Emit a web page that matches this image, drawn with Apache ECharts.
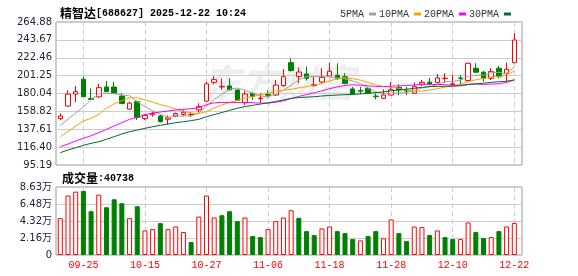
<!DOCTYPE html>
<html>
<head>
<meta charset="utf-8">
<script src="https://cdn.jsdelivr.net/npm/echarts@6/dist/echarts.min.js"></script>
<style>
html,body{margin:0;padding:0;background:#fff;}
#chart{width:578px;height:276px;}
</style>
</head>
<body>
<div id="chart"></div>
<script>
// ---- data ----
const dates = ['09-22','09-23','09-24','09-25','09-26','09-29','09-30','10-09','10-10','10-13','10-14','10-15','10-16','10-17','10-20','10-21','10-22','10-23','10-24','10-27','10-28','10-29','10-30','10-31','11-03','11-04','11-05','11-06','11-07','11-10','11-11','11-12','11-13','11-14','11-17','11-18','11-19','11-20','11-21','11-24','11-25','11-26','11-27','11-28','12-01','12-02','12-03','12-04','12-05','12-08','12-09','12-10','12-11','12-12','12-15','12-16','12-17','12-18','12-19','12-22'];
const tickDates = ['09-25','10-15','10-27','11-06','11-18','11-28','12-10','12-22'];
const openP  = [150.2,165.2,179.4,196.9,174.0,176.0,187.8,187.7,177.0,161.5,170.3,150.3,154.8,153.3,149.5,153.5,155.3,155.0,160.5,171.0,193.3,187.8,189.0,184.2,169.0,180.0,174.0,179.0,178.2,189.5,216.6,200.0,203.2,189.5,193.7,200.8,201.6,200.0,185.4,183.5,186.2,177.0,174.3,178.2,187.2,183.8,180.3,191.0,193.5,193.3,197.8,190.8,198.5,195.5,210.0,205.3,198.1,210.0,204.0,216.6];
const closeP = [153.3,179.4,182.2,176.3,173.0,187.0,182.2,180.5,168.3,168.6,151.5,154.0,156.3,146.8,151.0,156.3,157.8,155.4,164.5,191.5,196.5,188.5,184.3,171.8,179.4,176.5,174.5,178.0,190.0,200.0,207.3,205.5,198.1,190.5,199.2,206.4,198.1,192.1,179.4,182.7,180.3,176.2,178.2,184.5,184.2,183.0,188.1,193.3,191.3,198.5,198.2,191.5,198.0,215.9,205.3,198.1,206.0,200.0,208.8,243.5];
const lowP   = [148.6,164.5,170.0,176.0,172.3,175.1,182.0,179.5,167.2,160.4,148.6,148.6,152.5,145.4,143.0,152.0,153.0,152.0,157.7,170.3,191.0,184.5,184.0,171.0,166.3,172.5,169.0,175.0,177.0,188.0,206.0,192.0,195.3,188.0,192.0,200.0,196.0,191.0,178.6,179.4,179.5,173.1,174.0,177.9,178.0,178.0,180.0,189.0,189.5,192.0,192.5,190.1,190.5,194.0,204.3,194.0,196.0,198.1,194.0,215.9];
const highP  = [156.5,184.0,189.0,200.0,186.0,191.3,194.9,193.7,180.3,170.3,171.6,155.0,158.4,154.5,154.0,157.5,160.4,158.0,168.4,194.0,200.5,198.0,198.0,185.0,183.4,181.5,180.3,184.0,196.0,209.0,221.8,210.7,212.0,200.0,210.0,216.6,215.9,204.0,188.0,188.0,188.0,180.3,185.0,193.5,191.0,188.0,193.0,196.0,198.5,203.2,204.0,202.0,202.0,216.6,216.0,207.0,210.0,212.8,216.8,251.4];
const volume = [46700,75400,80400,81300,55600,76600,60600,70700,65700,46700,61900,31200,32800,40400,32800,36200,29100,16400,48800,75400,47600,50500,55600,42900,47600,24000,22700,32800,42900,47600,56800,47200,30300,25300,33700,36200,30300,27800,20200,18500,24000,30300,21100,45100,27800,17700,36200,35400,25300,31200,22700,20200,20200,41300,29100,21500,22700,30300,36200,40738];
const ma5  = [142.0,149.5,157.0,164.0,172.8,179.6,180.1,179.8,178.2,177.3,170.2,164.6,159.7,155.4,151.9,152.9,153.6,153.4,157.0,165.1,173.1,179.3,185.1,186.5,184.1,180.1,177.3,176.0,179.7,183.8,190.0,196.2,200.2,200.3,200.1,199.9,198.5,197.3,195.0,191.7,186.5,182.1,179.4,180.4,180.7,181.2,183.6,186.6,188.0,190.8,193.9,194.6,195.5,200.4,201.8,201.8,204.7,205.1,203.6,211.3];
const ma10 = [128.8,134.7,141.5,147.4,150.6,155.3,162.5,167.6,171.5,175.1,174.9,172.4,169.8,166.8,164.6,161.6,159.1,156.6,156.2,158.5,163.0,166.5,169.3,171.8,174.6,176.6,178.3,180.6,183.1,184.0,185.0,186.7,188.1,190.0,192.0,195.0,197.3,198.7,197.7,195.9,193.2,190.3,188.3,187.7,186.2,183.9,182.9,183.0,184.2,185.8,187.6,189.1,191.1,194.2,196.3,197.8,199.6,200.3,202.0,206.5];
const ma20 = [116.9,120.1,123.7,126.8,129.9,133.5,137.5,141.5,145.4,149.4,151.8,154.9,156.9,158.1,159.3,160.4,161.3,162.0,163.2,166.8,169.0,169.4,169.5,169.3,169.6,169.1,168.7,168.6,169.7,171.2,174.0,176.6,178.7,180.9,183.3,185.8,187.8,189.6,190.4,189.9,189.1,188.5,188.2,188.8,189.1,189.4,190.1,190.9,190.9,190.8,190.4,189.7,189.7,191.0,191.3,190.8,191.2,191.6,193.1,196.1];
const ma30 = [109.8,113.0,115.7,118.5,120.9,122.8,125.7,128.8,132.0,134.7,136.7,138.7,140.6,142.3,143.8,145.4,146.6,147.8,149.4,152.5,155.0,157.5,160.0,162.5,164.5,166.0,167.5,169.0,170.5,172.5,174.3,175.2,175.7,176.2,177.1,177.7,178.2,178.6,179.0,179.5,180.4,181.2,181.9,183.1,184.3,185.1,186.2,187.4,188.3,188.5,188.6,188.7,189.2,190.6,191.5,192.2,193.3,194.0,194.6,196.1];
const priceTicks = ['95.19','116.40','137.61','158.82','180.04','201.25','222.46','243.67','264.88'];
const volTicks = ['0','2.16万','4.32万','6.48万','8.63万'];
const priceMin = 95.19, priceMax = 264.88, volMax = 86300;
const maNames = ['5PMA','10PMA','20PMA','30PMA'];
const maColors = ['#a0a0a0','#f5a400','#ff00ff','#006a32'];
const titleText = ['精智达','[688627] 2025-12-22 10:24'];
const volTitle = ['成交量',':40738'];

// ---- build ----
const UP = '#ff0000', DOWN = '#008000';
const ohlc = openP.map((o,i)=>[o, closeP[i], lowP[i], highP[i]]);
const volData = volume.map((v,i)=>{
  const up = i===0 ? true : closeP[i] >= closeP[i-1];
  return {value:v, itemStyle: up ? {color:'#fff', borderColor:UP, borderWidth:1} : {color:DOWN, borderColor:DOWN, borderWidth:1}};
});
const showTick = (i)=> tickDates.indexOf(dates[i]) >= 0;
const MONO = '"Liberation Mono", "DejaVu Sans Mono", monospace';
const CJK = '"Noto Sans CJK SC", sans-serif';
const NUM = '"DejaVu Sans", "Noto Sans CJK SC", sans-serif';
const labelColor = '#22223a';
const dash = {color:'#cfcfcf', type:[5,3], width:1};

const chart = echarts.init(document.getElementById('chart'), null, {renderer:'canvas'});
const option = {
  animation:false,
  backgroundColor:'#fff',
  title:[
    {text:'{a|'+titleText[0]+'}{b|'+titleText[1]+'}', left:55, top:2,
     textStyle:{rich:{a:{fontFamily:CJK, fontSize:12, color:'#000'}, b:{fontFamily:MONO, fontSize:10, color:'#000'}}}},
    {text:'{a|'+volTitle[0]+'}{b|'+volTitle[1]+'}', left:57, top:167,
     textStyle:{rich:{a:{fontFamily:CJK, fontSize:12, color:'#000'}, b:{fontFamily:MONO, fontSize:10, color:'#000'}}}}
  ],
  legend:{data:maNames, left:335, top:4, align:'right', icon:'rect', itemWidth:7, itemHeight:3, itemGap:3,
          textStyle:{fontFamily:MONO, fontSize:10, color:'#333'}},
  graphic:[{type:'text', left:203, top:64, z:-10, silent:true,
            style:{text:'东方财富', font:'italic bold 38px "Noto Sans CJK SC"', fill:'#eeeef1'}}],
  grid:[
    {left:56, top:22, width:466, height:143, show:true, borderColor:'#999', borderWidth:1},
    {left:60.3, top:22, width:454, height:143},
    {left:56, top:187, width:466, height:68, show:true, borderColor:'#999', borderWidth:1},
    {left:60.3, top:187, width:454, height:68}
  ],
  xAxis:[
    {gridIndex:0, type:'value', min:0, max:1, show:false},
    {gridIndex:1, type:'category', data:dates, boundaryGap:false, axisLine:{show:false}, axisTick:{show:false}, axisLabel:{show:false},
     splitLine:{show:true, interval:(i)=>showTick(i), lineStyle:dash}},
    {gridIndex:2, type:'value', min:0, max:1, show:false},
    {gridIndex:3, type:'category', data:dates, boundaryGap:false, axisLine:{show:false}, axisTick:{show:false},
     axisLabel:{interval:(i)=>showTick(i), color:'#ff0000', fontFamily:MONO, fontSize:10, margin:5},
     splitLine:{show:true, interval:(i)=>showTick(i), lineStyle:dash}}
  ],
  yAxis:[
    {gridIndex:0, type:'value', min:0, max:8, interval:1, axisLine:{show:false}, axisTick:{show:false},
     axisLabel:{formatter:(v)=>priceTicks[v], color:labelColor, fontFamily:NUM, fontSize:10, margin:4},
     splitLine:{show:true, lineStyle:{color:'#cccccc', width:1}}},
    {gridIndex:1, type:'value', min:priceMin, max:priceMax, show:false, splitLine:{show:false}},
    {gridIndex:2, type:'value', min:0, max:4, interval:1, axisLine:{show:false}, axisTick:{show:false},
     axisLabel:{formatter:(v)=>volTicks[v], color:labelColor, fontFamily:NUM, fontSize:10, margin:4},
     splitLine:{show:true, lineStyle:{color:'#cccccc', width:1}}},
    {gridIndex:3, type:'value', min:0, max:volMax, show:false, splitLine:{show:false}}
  ],
  series:[
    {type:'candlestick', xAxisIndex:1, yAxisIndex:1, data:ohlc, barWidth:5, clip:false,
     itemStyle:{color:'#fff', color0:DOWN, borderColor:UP, borderColor0:DOWN, borderWidth:1}},
    ...[ma5,ma10,ma20,ma30].map((d,k)=>({name:maNames[k], type:'line', xAxisIndex:1, yAxisIndex:1, data:d,
      showSymbol:false, symbol:'none', clip:false, itemStyle:{color:maColors[k]}, lineStyle:{color:maColors[k], width:1}})),
    {type:'bar', xAxisIndex:3, yAxisIndex:3, data:volData, barWidth:5, clip:false}
  ]
};
chart.setOption(option);
</script>
</body>
</html>
